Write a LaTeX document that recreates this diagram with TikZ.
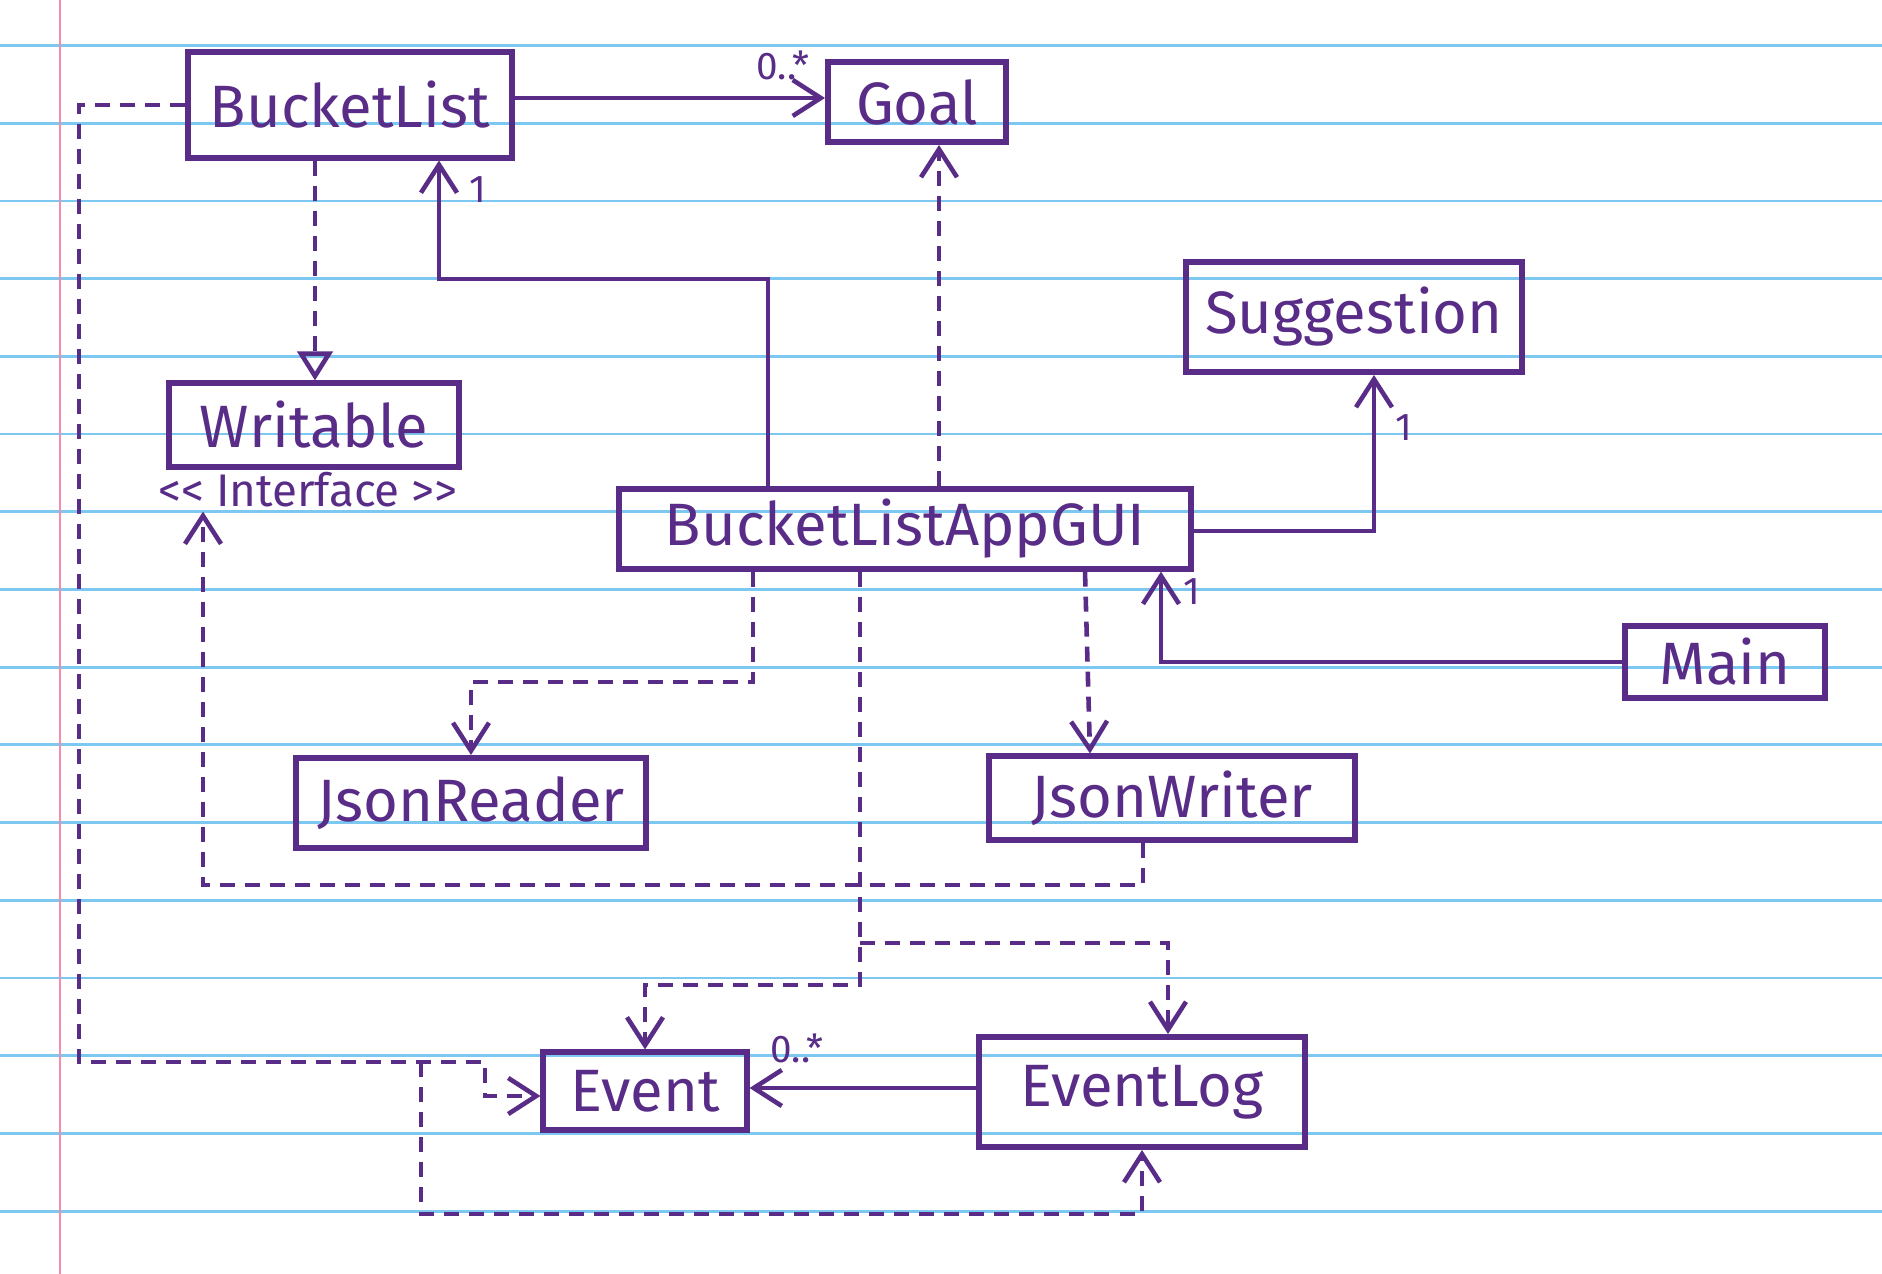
\documentclass[tikz,border=0pt]{standalone}
\usepackage{fontspec}
\setmainfont{Fira Sans}
\usepackage{tikz}
\usetikzlibrary{arrows.meta}
\definecolor{inkpurple}{RGB}{88,44,135}
\definecolor{ruleblue}{RGB}{125,200,240}
\definecolor{marginred}{RGB}{245,140,170}
\tikzset{
  classbox/.style={
    draw=inkpurple,
    line width=1.7pt,
    text=inkpurple,
    font=\fontsize{17}{20}\selectfont,
    inner sep=1mm
  },
  assoc/.style={-{Straight Barb[length=2.8mm,width=3.6mm]},draw=inkpurple,line width=1.3pt},
  dep/.style={assoc,dash pattern=on 1.5mm off 1mm},
  realize/.style={dep,-{Triangle[open,length=2.9mm,width=3.5mm]}},
  mult/.style={text=inkpurple,font=\fontsize{11}{12}\selectfont,inner sep=0pt},
  ruling/.style={draw=ruleblue,line width=0.8pt}
}
\begin{document}
\begin{tikzpicture}[x=0.01cm,y=-0.01cm]
\useasboundingbox (0,0) rectangle (1882,1274);
\fill[white] (0,0) rectangle (1882,1274);
\foreach \k in {0,...,15} \draw[ruling] (0,45.6+77.7*\k) -- (1882,45.6+77.7*\k);
\draw[marginred,line width=0.8pt] (60,0) -- (60,1274);
\node[classbox,minimum width=3.23cm,minimum height=1.05cm] (BucketList) at (350,105) {BucketList};
\node[classbox,minimum width=1.78cm,minimum height=0.80cm] (Goal) at (917,102) {Goal};
\node[classbox,minimum width=2.90cm,minimum height=0.83cm] (Writable) at (314,425) {Writable};
\node[text=inkpurple,font=\fontsize{13}{15}\selectfont,inner sep=1pt] (iface) at (308,490) {{<}{<} Interface {>}{>}};
\node[classbox,minimum width=5.72cm,minimum height=0.74cm] (AppGUI) at (905,529) {BucketListAppGUI};
\node[classbox,minimum width=3.36cm,minimum height=1.10cm] (Suggestion) at (1354,317) {Suggestion};
\node[classbox,minimum width=2.00cm,minimum height=0.71cm] (Main) at (1725,662) {Main};
\node[classbox,minimum width=3.49cm,minimum height=0.90cm] (JsonReader) at (471,803) {JsonReader};
\node[classbox,minimum width=3.66cm,minimum height=0.83cm] (JsonWriter) at (1172,798) {JsonWriter};
\node[classbox,minimum width=2.03cm,minimum height=0.77cm] (Event) at (645,1091) {Event};
\node[classbox,minimum width=3.26cm,minimum height=1.10cm] (EventLog) at (1142,1092) {EventLog};
\node[mult] (goalmult) at (783,65) {0..*};
\node[mult] (blone) at (478,190) {1};
\node[mult] (sugone) at (1404,428) {1};
\node[mult] (guione) at (1192,592) {1};
\node[mult] (eventmult) at (797,1048) {0..*};
\draw[assoc] (BucketList.east |- 0,98) -- (Goal.west |- 0,98);
\draw[assoc] (AppGUI.north -| 768,0) |- (439,279) -- (BucketList.south -| 439,0);
\draw[dep] (AppGUI.north -| 939,0) -- (Goal.south -| 939,0);
\draw[assoc] (AppGUI.east |- 0,531) -| (Suggestion.south -| 1374,0);
\draw[assoc] (Main.west) -| (AppGUI.south -| 1161,0);
\draw[realize] (BucketList.south -| 315,0) -- (Writable.north -| 315,0);
\draw[dep] (JsonWriter.south -| 1143,0) -- (1143,885) -| (iface.south -| 203,0);
\draw[dep] (AppGUI.south -| 753,0) -- (753,682) -| (JsonReader.north);
\draw[dep] (AppGUI.south -| 1085,0) -- (JsonWriter.north -| 1090,0);
\draw[dep] (AppGUI.south -| 860,0) -- (860,985) -| (Event.north);
\draw[dep] (860,943) -| (EventLog.north -| 1168,0);
\draw[dep] (BucketList.west) -| (79,1062) -| (485,1096) -- (Event.west |- 0,1096);
\draw[dep] (421,1062) -- (421,1214) -| (EventLog.south);
\draw[assoc] (EventLog.west |- 0,1088) -- (Event.east |- 0,1088);
\end{tikzpicture}
\end{document}
